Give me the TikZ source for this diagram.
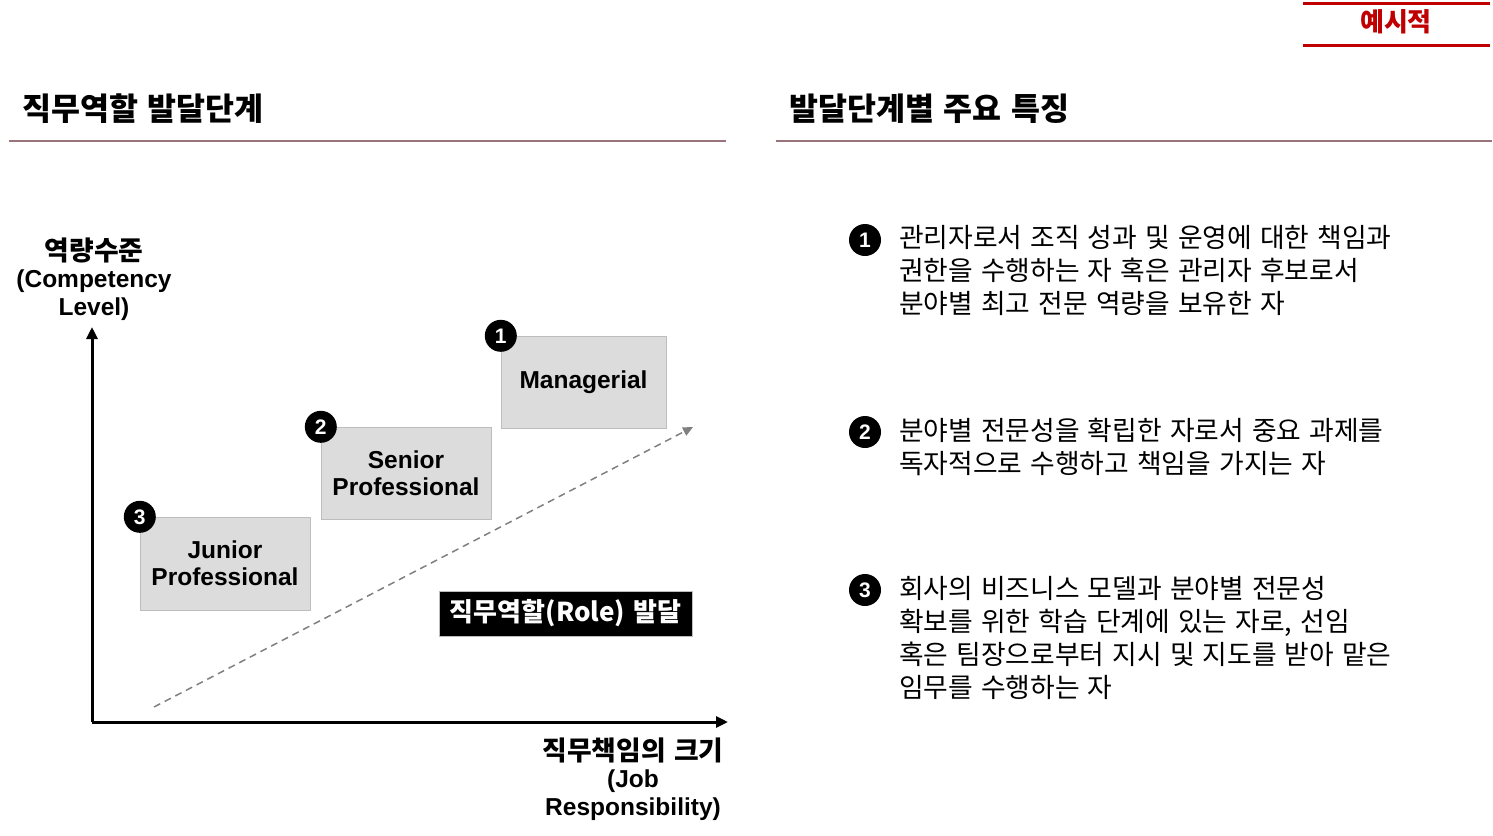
\documentclass[tikz,border=0pt]{standalone}
\usepackage{fontspec}
\setmainfont{Liberation Sans}
\newfontfamily\kor[WordSpace=1.35]{Noto Sans CJK KR}
\usetikzlibrary{arrows.meta,positioning}
\definecolor{markred}{HTML}{C00000}
\definecolor{headrule}{HTML}{9A747B}
\definecolor{stagefill}{HTML}{DCDCDC}
\definecolor{stageline}{HTML}{BDBDBD}
\begin{document}
\begin{tikzpicture}[x=1pt, y=-1pt,
  every node/.style={inner sep=0pt},
  heading/.style={font=\kor\bfseries\fontsize{31.5}{34}\selectfont, anchor=base west},
  axislabel/.style={font=\bfseries\fontsize{24.5}{27.5}\selectfont, align=center},
  stage/.style={draw=stageline, fill=stagefill, font=\bfseries\fontsize{24.5}{27}\selectfont, align=center},
  numdot/.style={circle, fill=black, minimum size=32pt, text=white, font=\bfseries\fontsize{21}{21}\selectfont},
  itemtext/.style={font=\kor\fontsize{26.8}{33}\selectfont, align=left, anchor=north west}]
  \useasboundingbox (0,0) rectangle (1493,835);

  % Sample mark
  \draw[markred, line width=3pt] (1303,3) -- (1490,3);
  \draw[markred, line width=3pt] (1303,45) -- (1490,45);
  \node[text=markred, font=\kor\bfseries\fontsize{26}{26}\selectfont] (mark) at (1396,22) {예시적};

  % Headings
  \node[heading] (lefthead) at (22,120) {직무역할 발달단계};
  \node[heading] (righthead) at (789,120) {발달단계별 주요 특징};
  \draw[headrule, line width=2pt] (9,141) -- (726,141);
  \draw[headrule, line width=2pt] (776,141) -- (1492,141);

  % Axes
  \coordinate (origin) at (92,722);
  \coordinate (ytop) at (92,327);
  \coordinate (xend) at (728,722);
  \draw[line width=3pt, -{Triangle[length=12pt,width=11pt]}] (origin) -- (ytop);
  \draw[line width=3pt, -{Triangle[length=12pt,width=11pt]}] (origin) -- (xend);
  \node[axislabel] (ylab) at (94,279) {{\kor\fontsize{26.8}{27.5}\selectfont 역량수준}\\(Competency\\Level)};
  \node[axislabel] (xlab) at (633,779) {{\kor\fontsize{26.8}{27.5}\selectfont 직무책임의 크기}\\(Job\\Responsibility)};

  % Development direction
  \coordinate (dstart) at (154,707);
  \coordinate (dend) at (693,427);
  \draw[gray, line width=1.5pt, dash pattern=on 7pt off 5pt, -{Triangle[length=10pt,width=9pt]}] (dstart) -- (dend);
  \node[fill=black, draw=stageline, minimum width=253pt, minimum height=45pt, text=white,
        font=\kor\bfseries\fontsize{26}{27}\selectfont] (role) at (565.5,613.5) {직무역할(Role) 발달};

  % Stages
  \node[stage, minimum width=170pt, minimum height=93pt] (junior) at (225,563.5) {Junior\\Professional};
  \node[stage, minimum width=170pt, minimum height=92pt] (senior) at (406,473) {Senior\\Professional};
  \node[stage, minimum width=165pt, minimum height=92pt] (manager) at (583.5,382) {Managerial};
  \node[numdot] (num3) at (junior.north west) {3};
  \node[numdot] (num2) at (senior.north west) {2};
  \node[numdot] (num1) at (manager.north west) {1};

  % Stage descriptions
  \node[numdot] (item1) at (865,240) {1};
  \node[numdot] (item2) at (865,432) {2};
  \node[numdot] (item3) at (865,590) {3};
  \node[itemtext] (text1) at (899,225) {관리자로서 조직 성과 및 운영에 대한 책임과\\권한을 수행하는 자 혹은 관리자 후보로서\\분야별 최고 전문 역량을 보유한 자};
  \node[itemtext] (text2) at (899,418) {분야별 전문성을 확립한 자로서 중요 과제를\\독자적으로 수행하고 책임을 가지는 자};
  \node[itemtext] (text3) at (899,576) {회사의 비즈니스 모델과 분야별 전문성\\확보를 위한 학습 단계에 있는 자로, 선임\\혹은 팀장으로부터 지시 및 지도를 받아 맡은\\임무를 수행하는 자};
\end{tikzpicture}
\end{document}
